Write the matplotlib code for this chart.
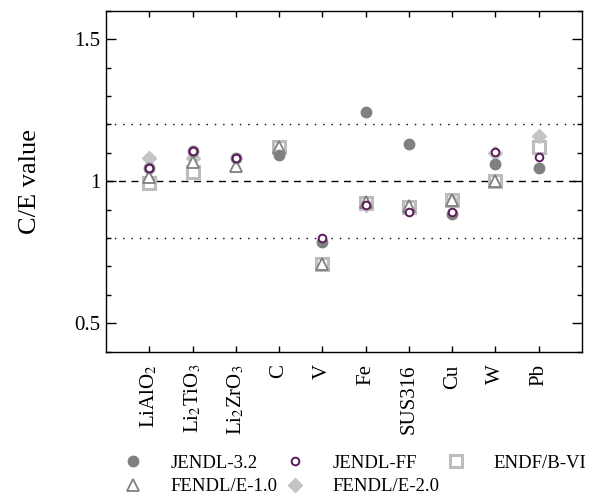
import numpy as np
import matplotlib
matplotlib.use("Agg")
import matplotlib.pyplot as plt
from matplotlib.ticker import MultipleLocator

plt.rcParams['font.family'] = ['Liberation Serif', 'DejaVu Serif']
plt.rcParams['mathtext.fontset'] = 'stix'

# materials along the x axis
materials = ['LiAlO$_2$', 'Li$_2$TiO$_3$', 'Li$_2$ZrO$_3$', 'C', 'V', 'Fe',
             'SUS316', 'Cu', 'W', 'Pb']

# C/E values per nuclear data library (nan = no result)
nan = np.nan
jendl32 = [1.045, 1.105, 1.080, 1.092, 0.785, 1.244, 1.130, 0.884, 1.062, 1.045]
jendlff = [1.047, 1.106, 1.083, nan, 0.800, 0.915, 0.890, 0.890, 1.101, 1.086]
endfb6 = [0.994, 1.033, nan, 1.120, 0.707, 0.923, 0.910, 0.933, 1.000, 1.121]
fendl1 = [1.015, 1.067, 1.054, 1.121, 0.707, 0.927, 0.913, 0.935, 1.000, nan]
fendl2 = [1.080, 1.080, nan, nan, nan, 0.915, nan, 0.930, 1.100, 1.160]

x = np.arange(1, len(materials) + 1)

fig = plt.figure(figsize=(6.04, 5.03), dpi=100)
ax = fig.add_axes([0.1755, 0.3008, 0.788, 0.678])

ax.axhline(1.0, color='black', lw=1, ls=(0, (5, 4)), zorder=1)
ax.axhline(1.2, color='black', lw=1, ls=(0, (1, 5)), zorder=1)
ax.axhline(0.8, color='black', lw=1, ls=(0, (1, 5)), zorder=1)

h_endf, = ax.plot(x, endfb6, 's', ms=8, mfc='white', mec='#bdbdbd', mew=2.2,
                  ls='none', label='ENDF/B-VI', zorder=2)
h_f2, = ax.plot(x, fendl2, 'D', ms=7, mfc='#c4c4c4', mec='#c4c4c4',
                ls='none', label='FENDL/E-2.0', zorder=3)
h_f1, = ax.plot(x, fendl1, '^', ms=8.5, mfc='white', mec='#808080', mew=1.3,
                ls='none', label='FENDL/E-1.0', zorder=4)
h_j32, = ax.plot(x, jendl32, 'o', ms=7.5, mfc='#808080', mec='#808080',
                 ls='none', label='JENDL-3.2', zorder=5)
h_jff, = ax.plot(x, jendlff, 'o', ms=5.5, mfc='white', mec='#5c1a5c', mew=1.4,
                 ls='none', label='JENDL-FF', zorder=6)

ax.set_xlim(0, 11)
ax.set_ylim(0.4, 1.6)
ax.set_xticks(x)
ax.set_xticklabels(materials, rotation=90, fontsize=15)
ax.set_yticks([0.5, 1.0, 1.5])
ax.set_yticklabels(['0.5', '1', '1.5'], fontsize=15)
ax.yaxis.set_minor_locator(MultipleLocator(0.1))
ax.tick_params(axis='y', which='major', direction='in', length=7, width=1,
               left=True, right=True, pad=4)
ax.tick_params(axis='y', which='minor', direction='in', length=3.5, width=1,
               left=True, right=True)
ax.tick_params(axis='x', which='major', direction='in', length=4, width=1,
               top=True, bottom=True, pad=9)
ax.set_ylabel('C/E value', fontsize=19, labelpad=24)
for s in ax.spines.values():
    s.set_linewidth(1)

fig.legend([h_j32, h_f1, h_jff, h_f2, h_endf],
           ['JENDL-3.2', 'FENDL/E-1.0', 'JENDL-FF', 'FENDL/E-2.0', 'ENDF/B-VI'],
           ncol=3, loc='upper left', bbox_to_anchor=(0.193, 0.111),
           frameon=False, fontsize=13.5, handlelength=1.0, handletextpad=1.5,
           columnspacing=0.4, labelspacing=0.35, borderaxespad=0)

fig.savefig('out.png', dpi=100)
